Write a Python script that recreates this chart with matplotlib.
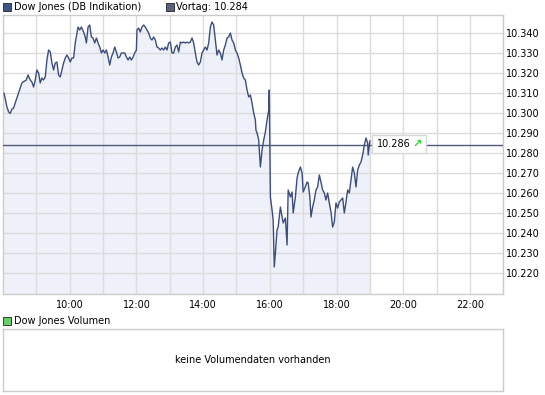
import matplotlib
matplotlib.use("Agg")
import matplotlib.pyplot as plt
from matplotlib.patches import Rectangle
from matplotlib.transforms import ScaledTranslation
import numpy as np
import pandas as pd

# Dow Jones intraday (DB Indikation), values in thousand points
times = [
    "08:02", "08:07", "08:10", "08:13", "08:16", "08:19", "08:22", "08:25", "08:28", "08:31",
    "08:34", "08:36", "08:42", "08:45", "08:49", "08:52", "08:55", "08:58", "09:01", "09:04",
    "09:07", "09:10", "09:13", "09:16", "09:19", "09:22", "09:25", "09:28", "09:31", "09:34",
    "09:37", "09:40", "09:43", "09:46", "09:49", "09:52", "09:55", "09:58", "10:01", "10:04",
    "10:07", "10:10", "10:13", "10:15", "10:18", "10:21", "10:25", "10:28", "10:30", "10:33",
    "10:36", "10:39", "10:42", "10:45", "10:48", "10:51", "10:54", "10:57", "11:00", "11:03",
    "11:06", "11:09", "11:12", "11:15", "11:18", "11:21", "11:24", "11:27", "11:30", "11:33",
    "11:36", "11:39", "11:42", "11:45", "11:48", "11:51", "11:54", "11:57", "12:00", "12:01",
    "12:04", "12:07", "12:10", "12:13", "12:16", "12:19", "12:22", "12:25", "12:28", "12:31",
    "12:34", "12:37", "12:40", "12:43", "12:46", "12:49", "12:52", "12:55", "12:58", "13:01",
    "13:04", "13:07", "13:10", "13:13", "13:16", "13:19", "13:22", "13:25", "13:28", "13:31",
    "13:34", "13:37", "13:40", "13:43", "13:46", "13:49", "13:52", "13:55", "13:58", "14:01",
    "14:04", "14:07", "14:10", "14:13", "14:16", "14:19", "14:22", "14:25", "14:28", "14:31",
    "14:34", "14:37", "14:40", "14:43", "14:46", "14:49", "14:52", "14:55", "14:58", "15:01",
    "15:04", "15:07", "15:10", "15:13", "15:16", "15:19", "15:22", "15:25", "15:28", "15:31",
    "15:34", "15:35", "15:37", "15:40", "15:41", "15:43", "15:46", "15:49", "15:52", "15:55",
    "15:58", "15:59", "16:01", "16:04", "16:06", "16:08", "16:10", "16:13", "16:15", "16:19",
    "16:22", "16:24", "16:28", "16:31", "16:33", "16:37", "16:40", "16:42", "16:46", "16:49",
    "16:51", "16:55", "16:58", "17:00", "17:03", "17:07", "17:09", "17:12", "17:14", "17:17",
    "17:20", "17:23", "17:26", "17:29", "17:32", "17:35", "17:38", "17:41", "17:44", "17:47",
    "17:50", "17:53", "17:56", "17:59", "18:02", "18:05", "18:08", "18:11", "18:14", "18:17",
    "18:20", "18:23", "18:26", "18:29", "18:32", "18:35", "18:38", "18:41", "18:44", "18:47",
    "18:50", "18:53", "18:56", "18:57", "18:59", "19:00",
]
prices = [
    10.3100, 10.3033, 10.3008, 10.3000, 10.3021, 10.3027, 10.3052, 10.3077, 10.3102, 10.3127,
    10.3152, 10.3157, 10.3167, 10.3192, 10.3167, 10.3157, 10.3132, 10.3167, 10.3217, 10.3202,
    10.3152, 10.3177, 10.3167, 10.3182, 10.3267, 10.3317, 10.3307, 10.3252, 10.3217, 10.3252,
    10.3257, 10.3192, 10.3182, 10.3217, 10.3252, 10.3277, 10.3292, 10.3277, 10.3257, 10.3277,
    10.3277, 10.3352, 10.3402, 10.3432, 10.3417, 10.3432, 10.3407, 10.3382, 10.3352, 10.3432,
    10.3442, 10.3382, 10.3377, 10.3352, 10.3377, 10.3352, 10.3332, 10.3302, 10.3317, 10.3302,
    10.3317, 10.3282, 10.3242, 10.3282, 10.3302, 10.3332, 10.3307, 10.3277, 10.3282, 10.3302,
    10.3302, 10.3302, 10.3282, 10.3267, 10.3282, 10.3267, 10.3282, 10.3302, 10.3317, 10.3417,
    10.3427, 10.3407, 10.3432, 10.3442, 10.3432, 10.3417, 10.3402, 10.3377, 10.3367, 10.3382,
    10.3367, 10.3332, 10.3327, 10.3317, 10.3327, 10.3317, 10.3332, 10.3317, 10.3352, 10.3357,
    10.3302, 10.3302, 10.3332, 10.3342, 10.3307, 10.3357, 10.3352, 10.3357, 10.3352, 10.3357,
    10.3352, 10.3357, 10.3377, 10.3352, 10.3302, 10.3257, 10.3242, 10.3257, 10.3302, 10.3317,
    10.3332, 10.3317, 10.3352, 10.3432, 10.3457, 10.3442, 10.3367, 10.3292, 10.3317, 10.3302,
    10.3267, 10.3317, 10.3342, 10.3377, 10.3382, 10.3402, 10.3367, 10.3352, 10.3317, 10.3302,
    10.3277, 10.3242, 10.3202, 10.3177, 10.3167, 10.3117, 10.3082, 10.3092, 10.3052, 10.3002,
    10.2967, 10.2917, 10.2902, 10.2867, 10.2817, 10.2732, 10.2817, 10.2867, 10.2907, 10.2967,
    10.3017, 10.3117, 10.2582, 10.2517, 10.2467, 10.2232, 10.2302, 10.2417, 10.2432, 10.2532,
    10.2482, 10.2452, 10.2477, 10.2342, 10.2617, 10.2582, 10.2607, 10.2502, 10.2582, 10.2677,
    10.2702, 10.2732, 10.2702, 10.2607, 10.2627, 10.2657, 10.2652, 10.2582, 10.2482, 10.2532,
    10.2567, 10.2617, 10.2632, 10.2692, 10.2657, 10.2617, 10.2602, 10.2567, 10.2602, 10.2552,
    10.2507, 10.2432, 10.2457, 10.2552, 10.2527, 10.2557, 10.2567, 10.2577, 10.2502, 10.2557,
    10.2617, 10.2602, 10.2667, 10.2732, 10.2702, 10.2632, 10.2717, 10.2742, 10.2757, 10.2792,
    10.2842, 10.2877, 10.2852, 10.2792, 10.2842, 10.2862,
]
vortag = 10.284
last_label = "10.286"
hour_labels = ["10:00", "12:00", "14:00", "16:00", "18:00", "20:00", "22:00"]
y_ticks = [10.220, 10.230, 10.240, 10.250, 10.260, 10.270, 10.280,
           10.290, 10.300, 10.310, 10.320, 10.330, 10.340]

W, H = 545, 395
LINE = "#3c4e7c"
FILL = "#eef1fa"
GRID = "#dcdcdc"
BORDER = "#cccccc"

plt.rcParams["font.family"] = "DejaVu Sans"
plt.rcParams["font.size"] = 7


def fx(px):
    return px / W


def fy(py):
    return 1 - py / H


hours = pd.to_timedelta([t + ":00" for t in times]) / pd.Timedelta(hours=1)
hours = np.asarray(hours)

fig = plt.figure(figsize=(W / 100, H / 100), dpi=100)

# main price panel
ax = fig.add_axes([fx(3), fy(294), fx(503.3) - fx(3), fy(14.6) - fy(294)])
ymin, ymax = 10.2097, 10.3494
ax.set_xlim(8, 23)
ax.set_ylim(ymin, ymax)
ax.fill_between(hours, prices, ymin, color=FILL, lw=0, zorder=1)
ax.plot(hours, prices, color=LINE, lw=1.0, zorder=3)
ax.axhline(vortag, color="#505a78", lw=1, zorder=2.6)

ax.set_xticks(range(8, 24), minor=True)
ax.set_xticks([int(h[:2]) for h in hour_labels])
ax.set_xticklabels(hour_labels)
ax.set_yticks(y_ticks)
ax.set_yticklabels([f"{v:.3f}" for v in y_ticks])
ax.yaxis.tick_right()
ax.tick_params(axis="both", which="both", length=0, labelsize=7, colors="black")
ax.tick_params(axis="x", pad=4)
ax.tick_params(axis="y", pad=2)
ax.set_axisbelow("line")
ax.grid(True, which="both", axis="x", color=GRID, lw=1)
ax.grid(True, which="major", axis="y", color=GRID, lw=1)
for s in ax.spines.values():
    s.set_color(BORDER)
    s.set_linewidth(1)

# last price box, anchored to the last data point (offsets in inches)
anchor = fig.dpi_scale_trans + ScaledTranslation(hours[-1], prices[-1], ax.transData)
ax.add_patch(Rectangle((0.025, -0.118), 0.534, 0.177, transform=anchor,
                       fc="white", ec="#d8d8d8", lw=1, zorder=5, clip_on=False))
ax.annotate(last_label, xy=(hours[-1], prices[-1]), xytext=(5.2, -2.2),
            textcoords="offset points", ha="left", va="center", fontsize=7,
            zorder=6)
ax.annotate("\u2197", xy=(hours[-1], prices[-1]), xytext=(31, -2.2),
            textcoords="offset points", ha="left", va="center", fontsize=8,
            color="#22dd22", fontweight="bold", zorder=6)

# header legend
fig.patches.append(Rectangle((fx(3), fy(10.5)), fx(7.5), fy(3) - fy(10.5),
                             transform=fig.transFigure, fc="#3f5587", ec="#222222", lw=0.6))
fig.text(fx(14), fy(7), "Dow Jones (DB Indikation)", ha="left", va="center", fontsize=7)
fig.patches.append(Rectangle((fx(166), fy(10.5)), fx(7.5), fy(3) - fy(10.5),
                             transform=fig.transFigure, fc="#5c6282", ec="#222222", lw=0.6))
fig.text(fx(176), fy(7), f"Vortag: {vortag:.3f}", ha="left", va="center", fontsize=7)

# volume panel
fig.patches.append(Rectangle((fx(3), fy(324.5)), fx(7.5), fy(317) - fy(324.5),
                             transform=fig.transFigure, fc="#66d066", ec="#222222", lw=0.6))
fig.text(fx(14), fy(321), "Dow Jones Volumen", ha="left", va="center", fontsize=7)
vax = fig.add_axes([fx(3), fy(390.5), fx(503.3) - fx(3), fy(328.7) - fy(390.5)])
vax.set_xticks([])
vax.set_yticks([])
for s in vax.spines.values():
    s.set_color(BORDER)
    s.set_linewidth(1)
vax.text(0.5, 0.5, "keine Volumendaten vorhanden", ha="center", va="center",
         fontsize=7, transform=vax.transAxes)

fig.savefig("out.png", dpi=100)
